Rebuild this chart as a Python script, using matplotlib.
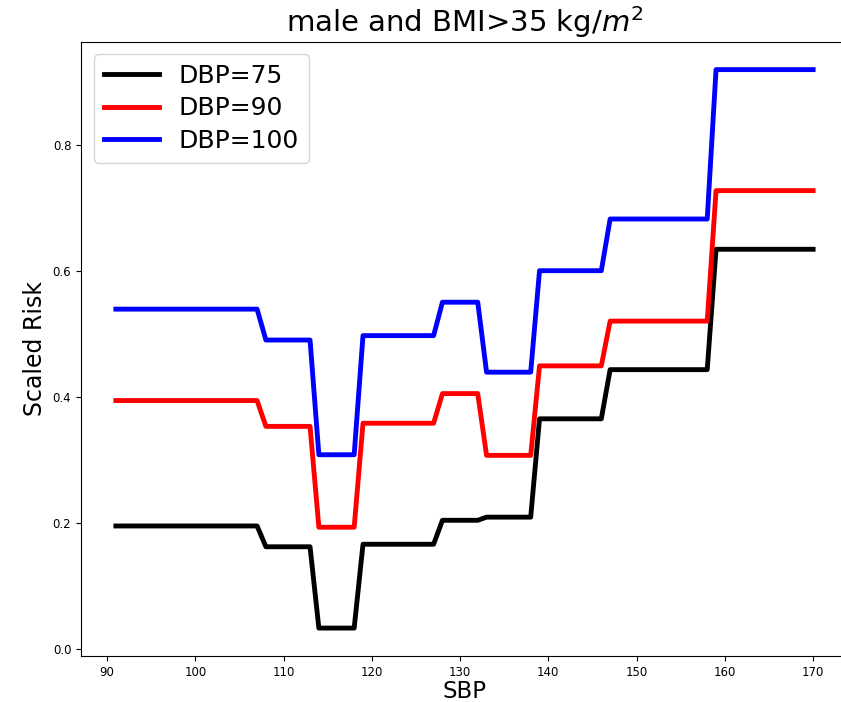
import numpy as np
import matplotlib
matplotlib.use("Agg")
import matplotlib.pyplot as plt

# SBP values (integer grid)
sbp = list(range(91, 171))

# Step segments: number of SBP points in each run of constant risk
run_lengths = [17, 6, 5, 9, 5, 6, 8, 12, 12]

# Scaled risk level for each run
dbp75_levels = [0.195, 0.162, 0.033, 0.166, 0.204, 0.209, 0.365, 0.443, 0.634]
dbp90_levels = [0.394, 0.353, 0.193, 0.358, 0.405, 0.307, 0.449, 0.520, 0.727]
dbp100_levels = [0.539, 0.490, 0.308, 0.497, 0.550, 0.439, 0.600, 0.682, 0.919]

series_labels = ["DBP=75", "DBP=90", "DBP=100"]
series_colors = ["black", "red", "blue"]

dbp75 = np.repeat(dbp75_levels, run_lengths)
dbp90 = np.repeat(dbp90_levels, run_lengths)
dbp100 = np.repeat(dbp100_levels, run_lengths)

fig = plt.figure(figsize=(8.41, 7.02), dpi=100)
ax = fig.add_axes([81 / 841, 1 - 656 / 702, 767 / 841, (656 - 41.7) / 702])

for y, lab, col in zip([dbp75, dbp90, dbp100], series_labels, series_colors):
    ax.plot(sbp, y, color=col, lw=3.5, label=lab)

ax.set_xticks([90, 100, 110, 120, 130, 140, 150, 160, 170])
ax.set_yticks([0.0, 0.2, 0.4, 0.6, 0.8])
ax.tick_params(labelsize=8.5)
ax.set_xlabel("SBP", fontsize=16.5, labelpad=1)
ax.set_ylabel("Scaled Risk", fontsize=17)
ax.set_title("male and BMI>35 kg/$m^2$", fontsize=21, pad=7)
ax.legend(loc="upper left", fontsize=18, handlelength=2.2, labelspacing=0.33)

fig.savefig("out.png", dpi=100)
